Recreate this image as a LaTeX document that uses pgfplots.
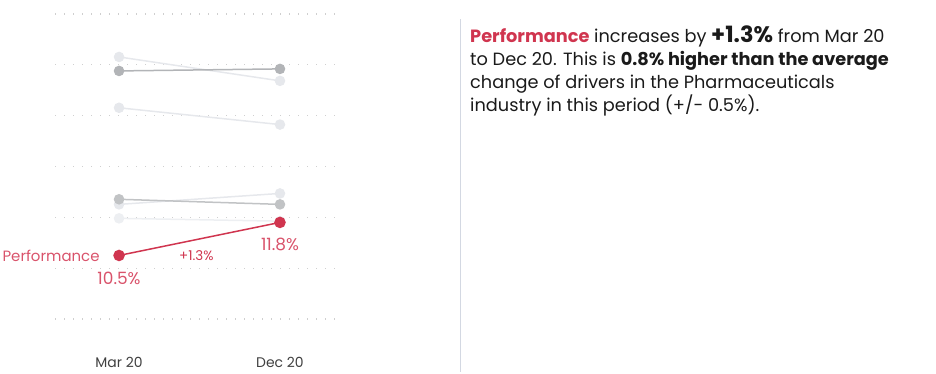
\documentclass[border=0pt]{standalone}
\usepackage{fontspec}
\setmainfont{Poppins}
\usepackage{pgfplots}
\pgfplotsset{compat=1.18}
\definecolor{perf}{HTML}{D0354F}
\definecolor{perflab}{HTML}{D9536B}
\definecolor{dkg}{HTML}{B2B4B7}
\definecolor{ltg}{HTML}{E6E8EC}
\definecolor{gridc}{HTML}{CFCFCF}
\definecolor{sep}{HTML}{D3D8E2}
\definecolor{txt}{HTML}{1A1A1A}
\begin{document}
\begin{tikzpicture}
\path[use as bounding box] (0,0) rectangle (936bp,-374bp);
\begin{axis}[at={(55bp,-319bp)}, anchor=south west, scale only axis,
  width=285bp, height=305bp, xmin=-0.398, xmax=1.373, ymin=8, ymax=20,
  axis line style={draw=none}, major tick length=0,
  ytick={8,10,...,20}, yticklabels={}, ymajorgrids,
  grid style={gridc, line width=1.2bp, dash pattern=on 1.2bp off 7.8bp},
  xtick={0,1}, xticklabels={Mar 20,Dec 20},
  xticklabel style={anchor=base, yshift=-48bp, font=\fontsize{14}{16}\selectfont, text=black!75},
  clip=false]
\addplot[ltg, line width=1.5bp, mark=*, mark size=4.5bp, mark options={fill=ltg, draw=none}] coordinates {(0,18.31) (1,17.37)};
\addplot[ltg, line width=1.5bp, mark=*, mark size=4.5bp, mark options={fill=ltg, draw=none}] coordinates {(0,16.31) (1,15.65)};
\addplot[ltg, line width=1.5bp, mark=*, mark size=4.5bp, mark options={fill=ltg, draw=none}] coordinates {(0,12.51) (1,12.94)};
\addplot[ltg!70!white, line width=1.5bp, mark=*, mark size=4.5bp, mark options={fill=ltg!70!white, draw=none}] coordinates {(0,11.96) (1,11.85)};
\addplot[dkg, line width=1.5bp, mark=*, mark size=4.5bp, mark options={fill=dkg, draw=none}] coordinates {(0,17.76) (1,17.84)};
\addplot[dkg!80!white, line width=1.5bp, mark=*, mark size=4.5bp, mark options={fill=dkg!80!white, draw=none}] coordinates {(0,12.71) (1,12.51)};
\addplot[perf, line width=1.5bp, mark=*, mark size=5bp, mark options={fill=perf, draw=none}] coordinates {(0,10.5) (1,11.8)};
\node[anchor=east, text=perflab, font=\fontsize{15}{17}\selectfont] at (axis cs:0,10.5) [xshift=-16bp] {Performance};
\node[text=perflab, font=\fontsize{17}{19}\selectfont] at (axis cs:0,10.5) [yshift=-23bp] {10.5\%};
\node[text=perflab, font=\fontsize{17}{19}\selectfont] at (axis cs:1,11.8) [yshift=-22bp] {11.8\%};
\node[text=perf, font=\fontsize{13.5}{15}\selectfont] at (axis cs:0.48,10.5) {+1.3\%};
\end{axis}
\draw[sep, line width=1bp] (460bp,-19bp) -- (460bp,-372bp);
\begin{scope}[every node/.style={anchor=base west, inner sep=0pt, text=txt, font=\fontsize{17.8}{20}\selectfont}]
\node at (470bp,-42bp) {{\bfseries\color{perf}Performance} increases by {\fontsize{22.5}{24}\selectfont\bfseries +1.3\%} from Mar 20};
\node at (470bp,-65bp) {to Dec 20. This is \textbf{0.8\% higher than the average}};
\node at (470bp,-88bp) {change of drivers in the Pharmaceuticals};
\node at (470bp,-111bp) {industry in this period (+/- 0.5\%).};
\end{scope}
\end{tikzpicture}
\end{document}
